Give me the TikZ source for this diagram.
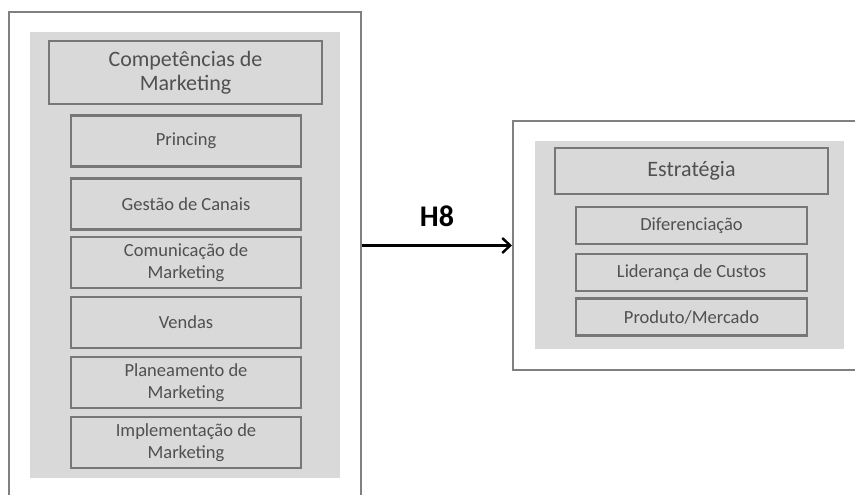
\documentclass[tikz,border=0pt]{standalone}
\usepackage{fontspec}
\setmainfont{Carlito}
\usetikzlibrary{arrows.meta}

\definecolor{frame}{HTML}{808080}
\definecolor{panel}{HTML}{D9D9D9}
\definecolor{boxline}{HTML}{777777}
\definecolor{boxtext}{HTML}{505050}

\tikzset{
  outerbox/.style = {draw=frame, line width=2pt, fill=white, rectangle, inner sep=0pt},
  panelbox/.style = {fill=panel, rectangle, inner sep=0pt},
  headbox/.style  = {draw=boxline, line width=2.8pt, fill=panel, rectangle, inner sep=0pt,
                     align=center, text=boxtext, font=\fontsize{22}{24}\selectfont},
  itembox/.style  = {draw=boxline, line width=2.8pt, fill=panel, rectangle, inner sep=0pt,
                     align=center, text=boxtext, font=\fontsize{18.5}{21.5}\selectfont}
}

\begin{document}
\begin{tikzpicture}[x=1pt, y=-1pt]

    \useasboundingbox (0,0) rectangle (855,495);

    % Draw Competencias side
    \node[outerbox, minimum width=352pt, minimum height=498pt] (compouter) at (185,261) {};
    \node[panelbox, minimum width=310pt, minimum height=446pt] (comppanel) at (185,255) {};
    \node[headbox, minimum width=273pt, minimum height=63pt] (comphead) at (185.5,72.5) {Competências de\\Marketing};
    \node[itembox, minimum width=230pt, minimum height=51pt] (pricing)  at (186,141)   {Princing};
    \node[itembox, minimum width=230pt, minimum height=51pt] (canais)   at (186,204)   {Gestão de Canais};
    \node[itembox, minimum width=230pt, minimum height=51pt] (comunic)  at (186,262.5) {Comunicação de\\Marketing};
    \node[itembox, minimum width=230pt, minimum height=51pt] (vendas)   at (186,322.5) {Vendas};
    \node[itembox, minimum width=230pt, minimum height=51pt] (planeam)  at (186,382.5) {Planeamento de\\Marketing};
    \node[itembox, minimum width=230pt, minimum height=51pt] (implem)   at (186,442.5) {Implementação de\\Marketing};

    % Draw Estrategia side
    \node[outerbox, minimum width=357pt, minimum height=249pt] (estrouter) at (691.5,245.5) {};
    \node[panelbox, minimum width=309pt, minimum height=208pt] (estrpanel) at (689.5,245) {};
    \node[headbox, minimum width=273pt, minimum height=46pt] (estrhead) at (691.5,171) {Estratégia};
    \node[itembox, minimum width=231pt, minimum height=37pt] (difer)   at (691.5,225.5) {Diferenciação};
    \node[itembox, minimum width=231pt, minimum height=37pt] (custos)  at (691.5,272.5) {Liderança de Custos};
    \node[itembox, minimum width=231pt, minimum height=37pt] (produto) at (691.5,317)   {Produto/Mercado};

    % Draw Hypothesis
    \draw[line width=2.4pt, -{Straight Barb[length=8pt, width=15pt]}]
      (compouter.east |- estrouter.west) -- node[above=14pt, font=\fontsize{30}{32}\selectfont\bfseries] (hyp) {H8} (estrouter.west);

\end{tikzpicture}
\end{document}
